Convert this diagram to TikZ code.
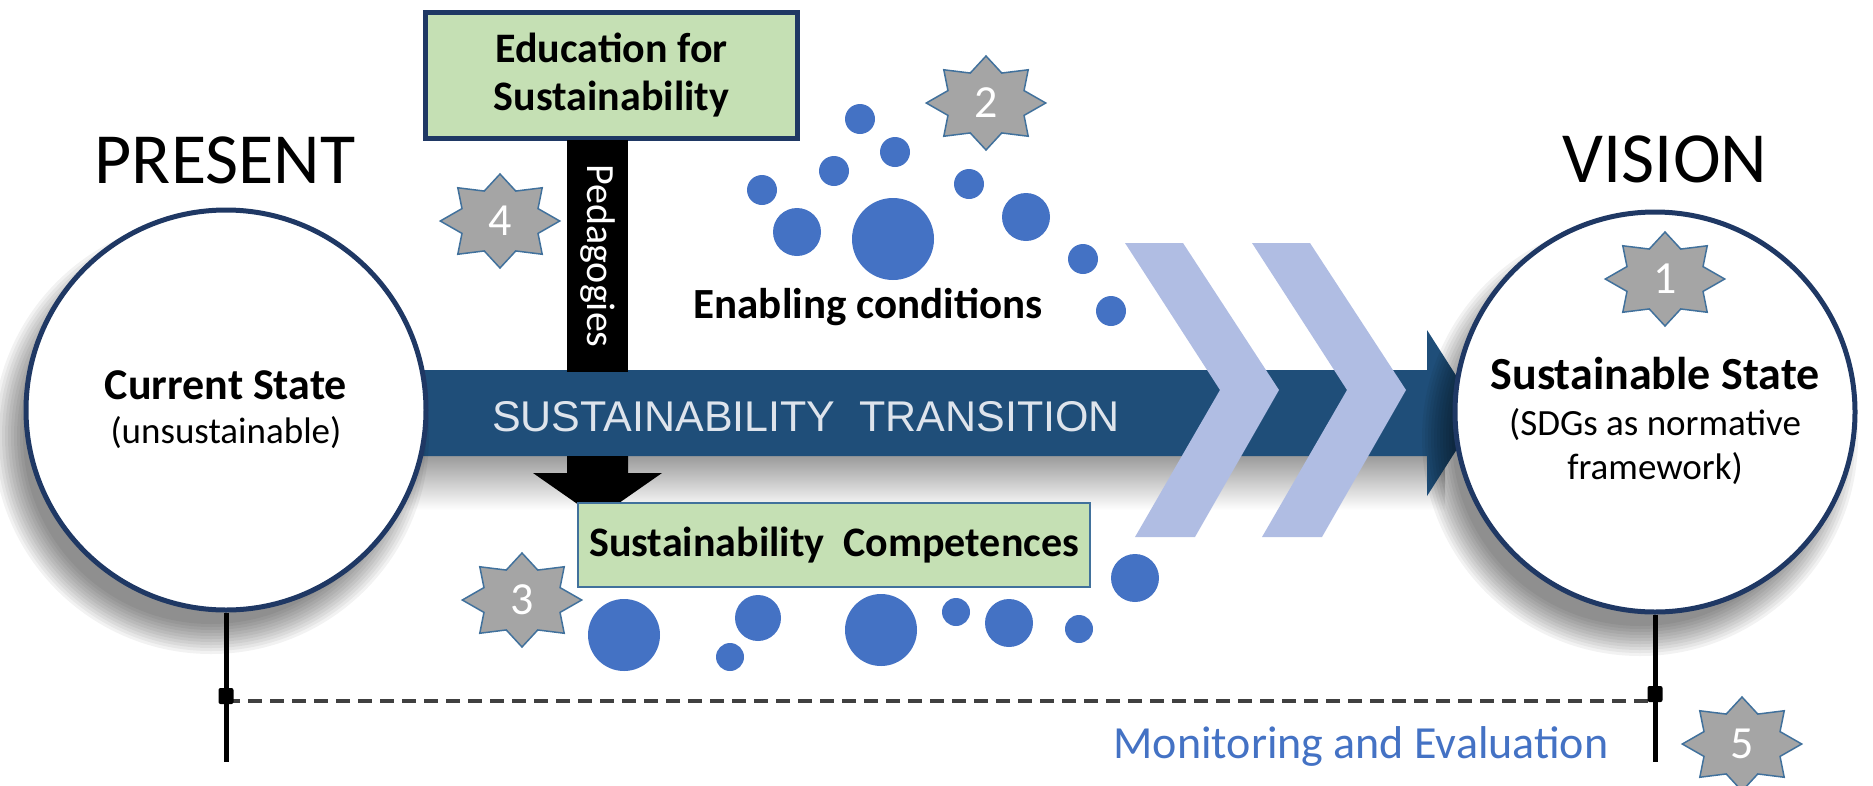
\documentclass[tikz,border=0pt]{standalone}
\usepackage{fontspec}
\setmainfont{Carlito}
\newfontfamily\arialfont{Liberation Sans}
\usetikzlibrary{shapes.geometric}

\definecolor{navy}{HTML}{1F3864}
\definecolor{barblue}{HTML}{1F4E79}
\definecolor{chevblue}{HTML}{B0BDE3}
\definecolor{dotblue}{HTML}{4472C4}
\definecolor{boxgreen}{HTML}{C5E0B4}
\definecolor{stargrey}{HTML}{A5A5A5}
\definecolor{staredge}{HTML}{41719C}

\begin{document}
\begin{tikzpicture}[x=1pt,y=-1pt]
        \tikzstyle{state}=[circle,draw=navy,line width=5pt,fill=white,minimum size=400pt,inner sep=0pt,align=center,
            font=\fontsize{37}{44}\selectfont]
        \tikzstyle{haze}=[fill=black,opacity=0.05]
        \tikzstyle{title}=[font=\fontsize{72}{80}\selectfont,anchor=base]
        \tikzstyle{edubox}=[draw=navy,line width=5pt,fill=boxgreen,minimum width=372pt,minimum height=126pt,
            align=center,font=\bfseries\fontsize{42}{48}\selectfont]
        \tikzstyle{compbox}=[draw=staredge,line width=2.5pt,fill=boxgreen,minimum width=512pt,minimum height=84pt,
            font=\bfseries\fontsize{42}{46}\selectfont]
        \tikzstyle{pedbar}=[fill=black,text=white,rotate=-90,minimum width=232pt,minimum height=61pt,inner sep=0pt,
            font=\fontsize{40}{44}\selectfont]
        \tikzstyle{badge}=[star,star points=8,star point ratio=1.45,minimum size=94pt,inner sep=0pt,
            fill=stargrey,draw=staredge,line width=1.5pt,xscale=1.27]
        \tikzstyle{badgenum}=[text=white,font=\fontsize{46}{48}\selectfont]
        \tikzstyle{stem}=[line width=5pt,black]
        \tikzstyle{joint}=[fill=black,minimum width=15pt,minimum height=16pt,inner sep=0pt,rounded corners=2pt]
        \tikzstyle{monitor}=[line width=3.5pt,black!75,dash pattern=on 14pt off 8pt]

        \useasboundingbox (0,0) rectangle (1873,785);

        % transition bar with its shadow
        \shade[top color=black!40,bottom color=white] (330,455) rectangle (1445,510);
        \fill[barblue] (300,370) -- (1427,370) -- (1427,330) -- (1480,413) -- (1427,496) -- (1427,456) -- (300,456) -- cycle;
        \node[text={rgb,255:red,222;green,228;blue,236},font=\arialfont\fontsize{43}{48}\selectfont,anchor=base]
            (trans) at (806,431) {SUSTAINABILITY\ \ TRANSITION};

        % chevrons
        \foreach \dx in {0,127}
            \fill[chevblue] (1125+\dx,243) -- (1183+\dx,243) -- (1279+\dx,390) -- (1195+\dx,537)
                -- (1135+\dx,537) -- (1220+\dx,390) -- cycle;

        % pedagogies and the arrow down
        \node[edubox] (edu) at (611.5,75) {Education for\\Sustainability};
        \node[pedbar] (ped) at (597.5,256) {Pedagogies};
        \fill[black] (567,456) -- (628,456) -- (628,473) -- (662,473) -- (597.5,518) -- (533,473) -- (567,473) -- cycle;
        \node[compbox] (comp) at (834,545) {Sustainability\ \ Competences};

        % states, with soft shadows
        \node[title] (present) at (225,183) {PRESENT};
        \node[title] (vision) at (1665,182) {VISION};
        \coordinate (curc) at (226,410);
        \coordinate (susc) at (1655,412);
        \foreach \k in {0,...,10} {
            \fill[haze] ([shift={(-15,26)}]curc) circle[radius=218-3*\k];
            \fill[haze] ([shift={(-15,26)}]susc) circle[radius=218-3*\k];
        }
        \node[state] (cur) at (curc) {{\bfseries\fontsize{44}{48}\selectfont Current State}\\(unsustainable)};
        \node[state] (sus) at (susc) {\\[6pt]{\bfseries\fontsize{46}{50}\selectfont Sustainable State}\\[2pt](SDGs as normative\\framework)};

        % enabling conditions
        \foreach \x/\y/\r in {860/119/15, 895/152/15, 834/171/15, 762/190/15, 797/232/24, 893/239/41,
                969/184/15, 1026/217/24, 1083/259/15, 1111/311/15}
            \fill[dotblue] (\x,\y) circle[radius=\r];
        \node[font=\bfseries\fontsize{43}{46}\selectfont,anchor=base] (enab) at (868,318) {Enabling conditions};

        % competence dots
        \foreach \x/\y/\r in {624/635/36, 758/618/23, 730/657/14, 881/630/36, 956/612/14, 1009/623/24,
                1079/629/14, 1135/578/24}
            \fill[dotblue] (\x,\y) circle[radius=\r];

        % monitoring and evaluation
        \coordinate (lb) at (226,762);
        \coordinate (rb) at (1655,762);
        \draw[stem] (cur.south) -- (lb);
        \draw[stem] (sus.south) -- (rb);
        \coordinate (ld) at (226,701);
        \coordinate (rd) at (1655,701);
        \draw[monitor] (ld) -- (rd);
        \node[joint] (lj) at (226,696) {};
        \node[joint] (rj) at (1655,694) {};
        \node[text=dotblue,font=\fontsize{46}{50}\selectfont,anchor=base] (mon) at (1361,758) {Monitoring and Evaluation};

        % numbered stars
        \foreach \n/\x/\y in {1/1665/279, 2/986/103, 3/522/600, 4/500/221, 5/1742/744} {
            \node[badge] (b\n) at (\x,\y) {};
            \node[badgenum] (n\n) at (b\n) {\n};
        }
\end{tikzpicture}
\end{document}
